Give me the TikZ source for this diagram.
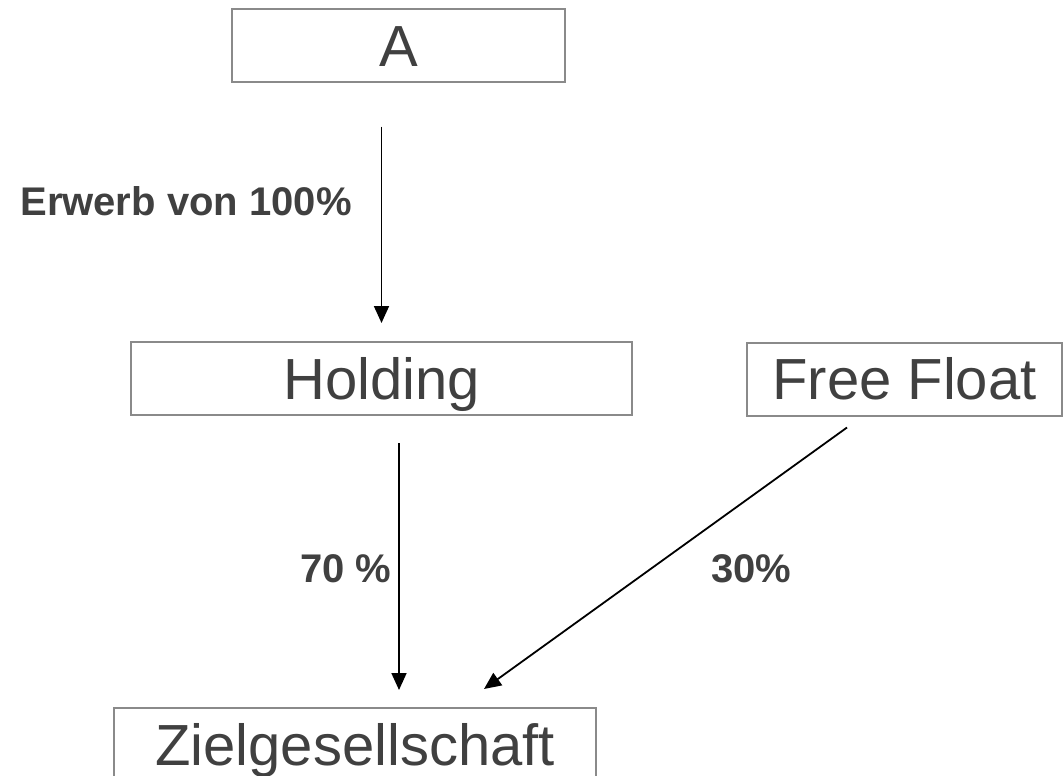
\documentclass[tikz,border=0pt]{standalone}
\usepackage{fontspec}
\setmainfont{Liberation Sans}
\usetikzlibrary{arrows.meta,calc}
\definecolor{boxtext}{HTML}{404040}
\definecolor{boxline}{HTML}{8A8A8A}

\begin{document}
\begin{tikzpicture}[x=1pt,y=-1pt,>={Triangle[length=17pt,width=15pt]},line width=1.8pt,
  firm/.style ={rectangle, draw=boxline, line width=2pt, text=boxtext, font=\fontsize{58}{60}\selectfont, text height=41.5pt, text depth=0pt, minimum height=73pt, inner sep=0pt},
  share/.style ={text=boxtext, font=\fontsize{40}{44}\selectfont\bfseries, inner sep=0pt, anchor=base}]
\useasboundingbox (0,0) rectangle (1063,776);
\draw (398.5,46) node[firm, minimum width=333pt] (A) {A};
\draw (381.5,378.5) node[firm, minimum width=501pt] (H) {Holding};
\draw (904.5,379) node[firm, minimum width=315pt] (F) {Free Float};
\draw (355,744.5) node[firm, minimum width=482pt] (Z) {Zielgesellschaft};
% Anteile
\coordinate (hout) at ([xshift=17.5pt]H.south);
\coordinate (fout) at ([xshift=-57.5pt,yshift=-11pt]F.south);
\coordinate (zin) at ([xshift=129pt,yshift=18pt]Z.north);
\draw[->,shorten <=43pt,shorten >=18pt] (A.south -| H.north)--(H.north);
\draw[->,shorten <=27pt,shorten >=17pt] (hout)--(hout |- Z.north);
\draw[->] (fout)--(zin);
\draw (186,215) node[share] (E) {Erwerb von 100\%};
\draw (346,582) node[share] (L70) {70 \%};
\draw (751.5,582) node[share] (L30) {30\%};
\end{tikzpicture}
\end{document}
